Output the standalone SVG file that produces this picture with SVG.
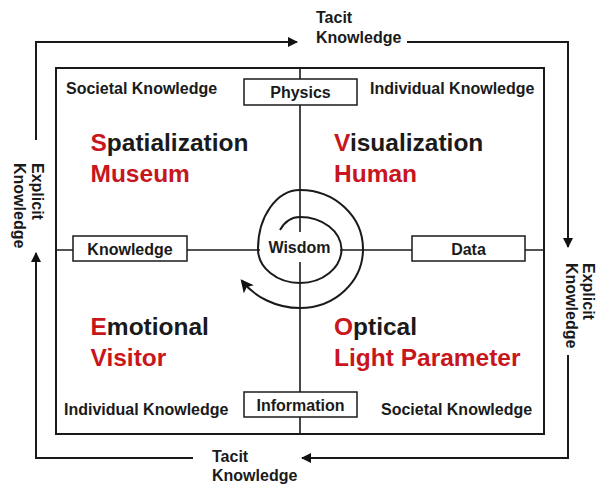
<svg xmlns="http://www.w3.org/2000/svg" width="597" height="484" viewBox="0 0 597 484">
  <defs>
    <marker id="arrow" viewBox="0 0 10 10" refX="9" refY="5" markerWidth="10" markerHeight="10" markerUnits="userSpaceOnUse" orient="auto">
      <path d="M0,0 L10,5 L0,10 Z" fill="#111"/>
    </marker>
    <marker id="spiral-head" viewBox="0 0 12 12" refX="10" refY="6" markerWidth="13" markerHeight="13" markerUnits="userSpaceOnUse" orient="auto">
      <path d="M0,0 L12,6 L0,12 L3,6 Z" fill="#111"/>
    </marker>
  </defs>
  <style>
    .line { fill: none; stroke: #1a1a1a; stroke-width: 2; }
    .thin { fill: none; stroke: #1a1a1a; stroke-width: 1.6; }
    .box { fill: #ffffff; stroke: #1a1a1a; stroke-width: 1.5; }
    .lbl { font-family: "Liberation Sans", Arial, sans-serif; font-weight: bold; font-size: 16px; fill: #1a1a1a; }
    .big { font-family: "Liberation Sans", Arial, sans-serif; font-weight: bold; font-size: 24.5px; fill: #1a1a1a; }
    .red { fill: #c8161d; }
    .mid { text-anchor: middle; }
  </style>
  <rect width="597" height="484" fill="#ffffff"/>

  <!-- outer knowledge cycle -->
  <g id="connectors">
    <polyline class="line" points="36,140 36,42 297,42" marker-end="url(#arrow)"/>
    <polyline class="line" points="407,42 568,42 568,247" marker-end="url(#arrow)"/>
    <polyline class="line" points="568,355 568,458 302,458" marker-end="url(#arrow)"/>
    <polyline class="line" points="193,458 36,458 36,253" marker-end="url(#arrow)"/>
  </g>

  <g id="cycle-labels">
    <text class="lbl" x="316" y="23">Tacit</text>
    <text class="lbl" x="316" y="43">Knowledge</text>
    <text class="lbl" x="212" y="462">Tacit</text>
    <text class="lbl" x="212" y="481">Knowledge</text>
    <g transform="translate(31.5,163) rotate(90)">
      <text class="lbl" x="0" y="0">Explicit</text>
      <text class="lbl" x="0" y="18">Knowledge</text>
    </g>
    <g transform="translate(583,263) rotate(90)">
      <text class="lbl" x="0" y="0">Explicit</text>
      <text class="lbl" x="0" y="17">Knowledge</text>
    </g>
  </g>

  <!-- frame and axes -->
  <g id="frame">
    <rect class="line" x="56" y="68" width="488" height="366"/>
    <line class="thin" x1="300" y1="68" x2="300" y2="434"/>
    <line class="thin" x1="56" y1="250" x2="544" y2="250"/>
  </g>

  <!-- quadrant corner labels -->
  <g id="quadrant-labels">
    <text class="lbl" x="66" y="94">Societal Knowledge</text>
    <text class="lbl" x="370" y="94">Individual Knowledge</text>
    <text class="lbl" x="64" y="415">Individual Knowledge</text>
    <text class="lbl" x="381" y="415">Societal Knowledge</text>
  </g>

  <!-- axis boxes -->
  <g id="physics">
    <rect class="box" x="244" y="79" width="113" height="26"/>
    <text class="lbl mid" x="300.5" y="98">Physics</text>
  </g>
  <g id="knowledge">
    <rect class="box" x="73" y="236" width="114" height="25"/>
    <text class="lbl mid" x="130" y="254.5">Knowledge</text>
  </g>
  <g id="data">
    <rect class="box" x="412" y="236" width="113" height="25"/>
    <text class="lbl mid" x="468.5" y="254.5">Data</text>
  </g>
  <g id="information">
    <rect class="box" x="244" y="392" width="113" height="25"/>
    <text class="lbl mid" x="300.5" y="410.5">Information</text>
  </g>

  <!-- central spiral -->
  <g id="wisdom">
    <rect x="260" y="232" width="80" height="30" fill="#ffffff"/>
    <path class="line" d="M280,230 C285,221 292,217 300,217 A41.5,33 0 0 1 341.5,249 A41.5,34 0 0 1 300,283 A42,34 0 0 1 258,249 A42,59 0 0 1 300,190 A63,59 0 0 1 363,249 A63,59 0 0 1 300,308 C276,308 255,297 242,281" marker-end="url(#spiral-head)"/>
    <text class="lbl mid" x="299.5" y="253">Wisdom</text>
  </g>

  <!-- quadrant titles -->
  <g id="spatialization">
    <text class="big" x="90.5" y="151"><tspan class="red">S</tspan>patialization</text>
    <text class="big red" x="90.5" y="182">Museum</text>
  </g>
  <g id="visualization">
    <text class="big" x="334" y="151"><tspan class="red">V</tspan>isualization</text>
    <text class="big red" x="334" y="182">Human</text>
  </g>
  <g id="emotional">
    <text class="big" x="90.5" y="335"><tspan class="red">E</tspan>motional</text>
    <text class="big red" x="90.5" y="366">Visitor</text>
  </g>
  <g id="optical">
    <text class="big" x="334" y="335"><tspan class="red">O</tspan>ptical</text>
    <text class="big red" x="334" y="366">Light Parameter</text>
  </g>
</svg>
